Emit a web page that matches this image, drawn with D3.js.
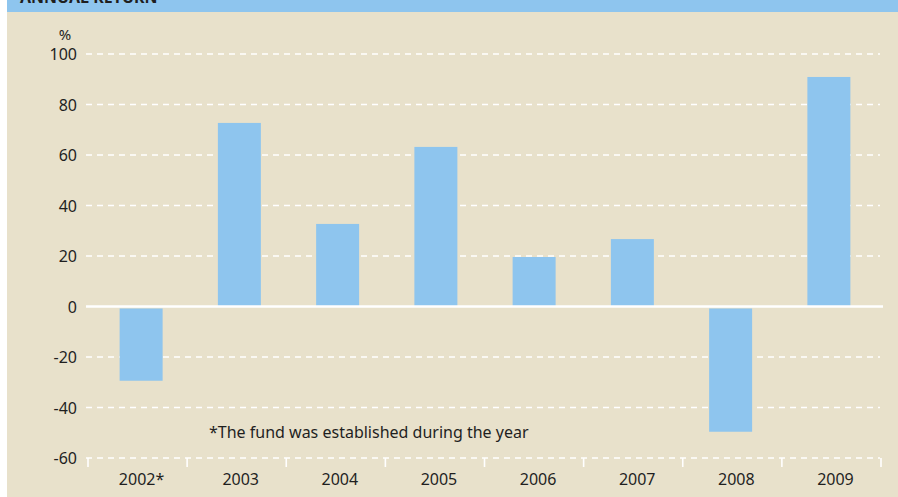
<!DOCTYPE html>
<meta charset="utf-8">
<script src="https://d3js.org/d3.v7.min.js"></script>
<style>
  body { margin: 0; background: #fff; }
  svg text { font-family: "Noto Sans", "Open Sans", sans-serif; fill: #1f1f1f; }
</style>
<div id="chart"></div>
<script>
// data
var years = ["2002*", "2003", "2004", "2005", "2006", "2007", "2008", "2009"];
var returns = [-29.4, 72.7, 32.7, 63.2, 19.6, 26.7, -49.6, 90.9];
var yTicks = [100, 80, 60, 40, 20, 0, -20, -40, -60];
var title = "ANNUAL RETURN";
var note = "*The fund was established during the year";

var W = 898, H = 497;
var bg = "#e8e1cb", blue = "#8ec5ee";

var svg = d3.select("#chart").append("svg")
  .attr("width", W).attr("height", H);

// panel background + header band (title runs off the top, as in the source)
svg.append("rect").attr("x", 7).attr("y", 0).attr("width", W - 7).attr("height", H).attr("fill", bg);
svg.append("rect").attr("x", 7).attr("y", 0).attr("width", W - 7).attr("height", 12).attr("fill", blue);
svg.append("text").attr("x", 20).attr("y", 3)
  .style("font-weight", "bold").style("font-size", "16px").text(title);

// scales
var y = d3.scaleLinear().domain([-60, 100]).range([458, 54]);
var xTick = d3.scaleBand().domain(years).range([88, 881]);
var xBar = d3.scaleBand().domain(years).range([92, 878]);
var barW = 43;

// grid lines
svg.append("g").selectAll("line")
  .data(yTicks.filter(function(d) { return d !== 0; }))
  .enter().append("line")
    .attr("x1", 86).attr("x2", 880)
    .attr("y1", function(d) { return y(d); })
    .attr("y2", function(d) { return y(d); })
    .attr("stroke", "#fff").attr("stroke-width", 1.6)
    .attr("stroke-dasharray", "6,5");

// y labels
svg.append("g").selectAll("text")
  .data(yTicks)
  .enter().append("text")
    .attr("x", 77).attr("y", function(d) { return y(d) + 6; })
    .attr("text-anchor", "end").style("font-size", "16px")
    .text(function(d) { return d; });
svg.append("text").attr("x", 65).attr("y", 40)
  .attr("text-anchor", "middle").style("font-size", "15px").text("%");

// bars
svg.append("g").selectAll("rect")
  .data(returns)
  .enter().append("rect")
    .attr("x", function(d, i) { return xBar(years[i]) + xBar.bandwidth() / 2 - barW / 2; })
    .attr("width", barW)
    .attr("y", function(d) { return d >= 0 ? y(d) : y(0) + 2; })
    .attr("height", function(d) { return d >= 0 ? y(0) - y(d) : y(d) - y(0) - 2; })
    .attr("fill", blue);

// zero line
svg.append("line")
  .attr("x1", 86).attr("x2", 883)
  .attr("y1", y(0)).attr("y2", y(0))
  .attr("stroke", "#fff").attr("stroke-width", 2.4);

// x ticks at category boundaries
var bounds = years.map(function(d) { return xTick(d); }).concat([xTick(years[years.length - 1]) + xTick.step()]);
svg.append("g").selectAll("line")
  .data(bounds)
  .enter().append("line")
    .attr("x1", function(d) { return d; }).attr("x2", function(d) { return d; })
    .attr("y1", 458).attr("y2", 467)
    .attr("stroke", "#fff").attr("stroke-width", 1.6);

// x labels
svg.append("g").selectAll("text")
  .data(years)
  .enter().append("text")
    .attr("x", function(d) { return xTick(d) + xTick.bandwidth() / 2 + 4; })
    .attr("y", 485)
    .attr("text-anchor", "middle").style("font-size", "16px")
    .text(function(d) { return d; });

// footnote
svg.append("text").attr("x", 209).attr("y", 438)
  .style("font-size", "16px").text(note);
</script>
